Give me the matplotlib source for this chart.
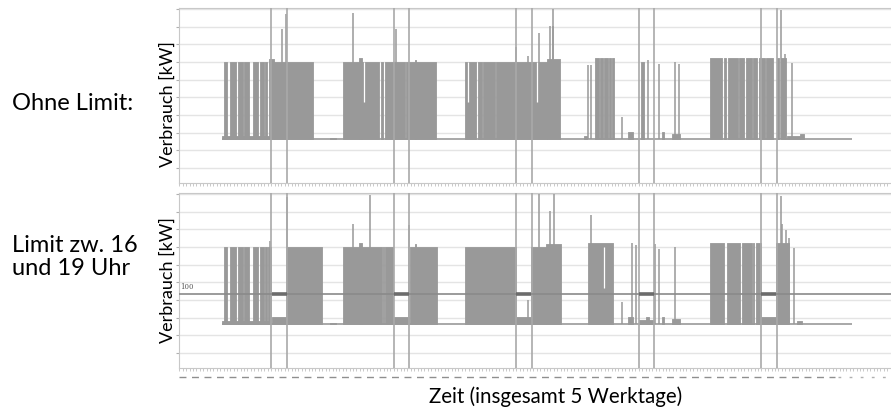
import matplotlib.pyplot as plt
from matplotlib.lines import Line2D

# x: hours since start of week (5 working days), y: power in kW
base_level = 59
signal_start, signal_end = 6.3, 129.8
limit_value = 100
marker_hours = [16, 19, 40, 43, 64, 67, 88, 91, 112, 115]
grid_levels = [20, 44, 67, 91, 115, 138, 162, 186, 209, 233]

# (start, end, top) of dense on/off blocks
top_blocks = [
    (6.73, 7.40, 162), (7.85, 9.02, 162), (9.41, 10.45, 162), (10.72, 11.62, 162),
    (12.49, 13.46, 162), (13.72, 14.56, 162), (14.76, 15.23, 162),
    (15.54, 16.5, 166), (16.5, 24.15, 162),
    (30.10, 37.06, 162), (37.53, 37.9, 162), (38.2, 42.2, 162), (42.4, 48.3, 162),
    (54.03, 56.18, 162), (56.44, 57.2, 162), (57.4, 59.8, 162), (60.0, 70.0, 162),
    (70.0, 72.49, 167),
    (79.47, 80.2, 168), (80.4, 81.0, 168), (81.2, 82.0, 168), (82.2, 82.5, 168),
    (82.7, 83.05, 168), (88.4, 89.0, 162),
    (101.98, 104.27, 168), (104.78, 105.1, 168), (105.4, 107.4, 168), (107.65, 108.7, 168),
    (108.95, 110.1, 168), (110.4, 111.2, 168), (111.45, 112.75, 168), (113.0, 114.37, 168),
    (115.03, 115.55, 168), (115.8, 116.79, 168),
]
# (hour, peak) single spikes
top_spikes = [
    (18.02, 207), (18.94, 227), (31.92, 228), (40.47, 207),
    (64.01, 182), (66.22, 170), (68.51, 202), (70.66, 211), (71.19, 211), (71.25, 234),
    (78.04, 159), (78.63, 159), (84.70, 89), (89.71, 165), (91.86, 160),
    (95.13, 162), (95.97, 160), (115.9, 232), (116.65, 173), (117.96, 161),
]
# (start, end, level) small humps above base
top_bumps = [
    (6.3, 15.5, 63), (27.6, 28.6, 61), (33.2, 33.7, 168), (44.1, 44.4, 165),
    (77.2, 77.8, 63), (85.93, 86.91, 68), (92.52, 92.97, 68), (94.5, 96.1, 66),
    (117.0, 119.6, 63), (119.58, 120.36, 66),
]
# (hour, level) white notches from the top of a block down to level
top_dips = [(34.13, 109), (54.5, 109), (68.06, 109)]

bot_blocks = [
    (6.73, 7.40, 162), (7.85, 9.02, 162), (9.41, 10.45, 162), (10.72, 11.62, 162),
    (12.49, 13.46, 162), (13.72, 14.56, 162), (14.76, 15.23, 162), (15.4, 15.9, 162),
    (19.0, 25.85, 162),
    (30.10, 37.73, 162), (37.95, 38.1, 162), (38.3, 39.8, 162), (43.13, 48.49, 162),
    (54.03, 64.01, 162), (66.89, 69.9, 162), (69.9, 72.76, 167),
    (78.04, 82.94, 168),
    (101.98, 104.78, 168), (105.24, 107.85, 168), (108.3, 110.1, 168), (110.4, 110.65, 168),
    (110.9, 111.9, 168), (114.83, 117.44, 168),
]
bot_spikes = [
    (15.73, 170), (19.14, 230), (31.92, 193), (35.30, 232), (42.94, 192),
    (66.22, 91), (68.51, 234), (70.66, 211), (71.31, 234),
    (78.69, 205), (84.70, 89), (86.65, 168), (87.49, 165), (91.18, 166), (91.86, 160),
    (95.13, 162), (115.87, 231), (116.12, 194), (116.79, 185), (117.44, 174), (118.47, 161),
]
bot_bumps = [
    (6.3, 15.5, 63), (27.6, 28.6, 61), (33.2, 33.7, 168), (44.1, 44.4, 166),
    (16.07, 19.0, 69), (40.14, 42.94, 69), (64.01, 66.89, 69), (87.94, 90.88, 64),
    (111.9, 114.83, 69),
    (85.93, 86.91, 68), (89.45, 89.9, 68), (92.52, 92.97, 68), (94.5, 96.1, 66),
    (118.9, 119.9, 63),
]
bot_dips = [(81.23, 107)]
limit_periods = [(16.07, 19.0), (40.14, 42.94), (64.01, 66.89), (87.94, 90.88), (111.9, 114.83)]

FILL = '#999999'


def draw_panel(ax, blocks, spikes, bumps, dips):
    ax.hlines(base_level, signal_start, signal_end, color=FILL, lw=1.2, zorder=3)
    for s, e, top in blocks:
        ax.fill_between([s, e], base_level, top, color=FILL, lw=0.6, edgecolor=FILL, zorder=3)
    for s, e, lvl in bumps:
        ax.fill_between([s, e], base_level, lvl, color=FILL, lw=0.6, edgecolor=FILL, zorder=3)
    for x, lvl in spikes:
        ax.vlines(x, base_level, lvl, color=FILL, lw=1.1, zorder=3)
    for x, lvl in dips:
        ax.vlines(x, lvl, 163, color='white', lw=0.9, zorder=4)
    for x in marker_hours:
        ax.axvline(x, color='#a9a9a9', lw=1.2, zorder=5)

    ax.set_xlim(-2.07, 137.4)
    ax.set_ylim(0, 235)
    ax.set_yticks(grid_levels)
    ax.set_yticklabels([])
    ax.set_xticks([h * 2 / 3 for h in range(-3, 207)])
    ax.set_xticklabels([])
    ax.grid(axis='y', color='#e4e4e4', lw=1)
    ax.tick_params(axis='y', length=2, color='#b0b0b0')
    ax.tick_params(axis='x', length=2, color='#c0c0c0', width=0.6)
    for side in ['left', 'top', 'bottom']:
        ax.spines[side].set_color('#c8c8c8')
    ax.spines['right'].set_visible(False)


def main():
    fig = plt.figure(figsize=(8.91, 4.07), dpi=100)
    plt.rcParams['font.family'] = ['Lato', 'DejaVu Sans']

    ax1 = fig.add_axes([179 / 891, 1 - 183 / 407, 712 / 891, 175 / 407])
    ax2 = fig.add_axes([179 / 891, 1 - 368 / 407, 712 / 891, 175 / 407])

    draw_panel(ax1, top_blocks, top_spikes, top_bumps, top_dips)
    draw_panel(ax2, bot_blocks, bot_spikes, bot_bumps, bot_dips)

    ax2.axhline(limit_value, color='#8a8a8a', lw=1.2, zorder=6)
    for s, e in limit_periods:
        ax2.hlines(limit_value, s, e, color='#6c6c6c', lw=2.6, zorder=7)
    ax2.text(-1.8, limit_value + 3, '100', fontsize=5, family='DejaVu Serif',
             color='#555555', va='bottom', ha='left')

    fig.text(168 / 891, 1 - 104 / 407, 'Verbrauch [kW]', rotation=90,
             ha='center', va='center', fontsize=13)
    fig.text(168 / 891, 1 - 280 / 407, 'Verbrauch [kW]', rotation=90,
             ha='center', va='center', fontsize=13)

    fig.text(12 / 891, 1 - 103 / 407, 'Ohne Limit:', ha='left', va='center', fontsize=17)
    fig.text(12 / 891, 1 - 257 / 407, 'Limit zw. 16\nund 19 Uhr', ha='left', va='center',
             fontsize=17, linespacing=1.15)

    fig.text(556 / 891, 1 - 397 / 407, 'Zeit (insgesamt 5 Werktage)', ha='center',
             va='center', fontsize=14.8)

    fig.add_artist(Line2D([179 / 891, 835 / 891], [1 - 377 / 407, 1 - 377 / 407],
                          color='#8f8f8f', lw=1, linestyle=(0, (5, 4))))
    fig.add_artist(Line2D([838 / 891, 1.0], [1 - 377 / 407, 1 - 377 / 407],
                          color='#b0b0b0', lw=1, linestyle=(0, (2, 6))))

    fig.savefig('out.png', dpi=100)


if __name__ == "__main__":
    main()
